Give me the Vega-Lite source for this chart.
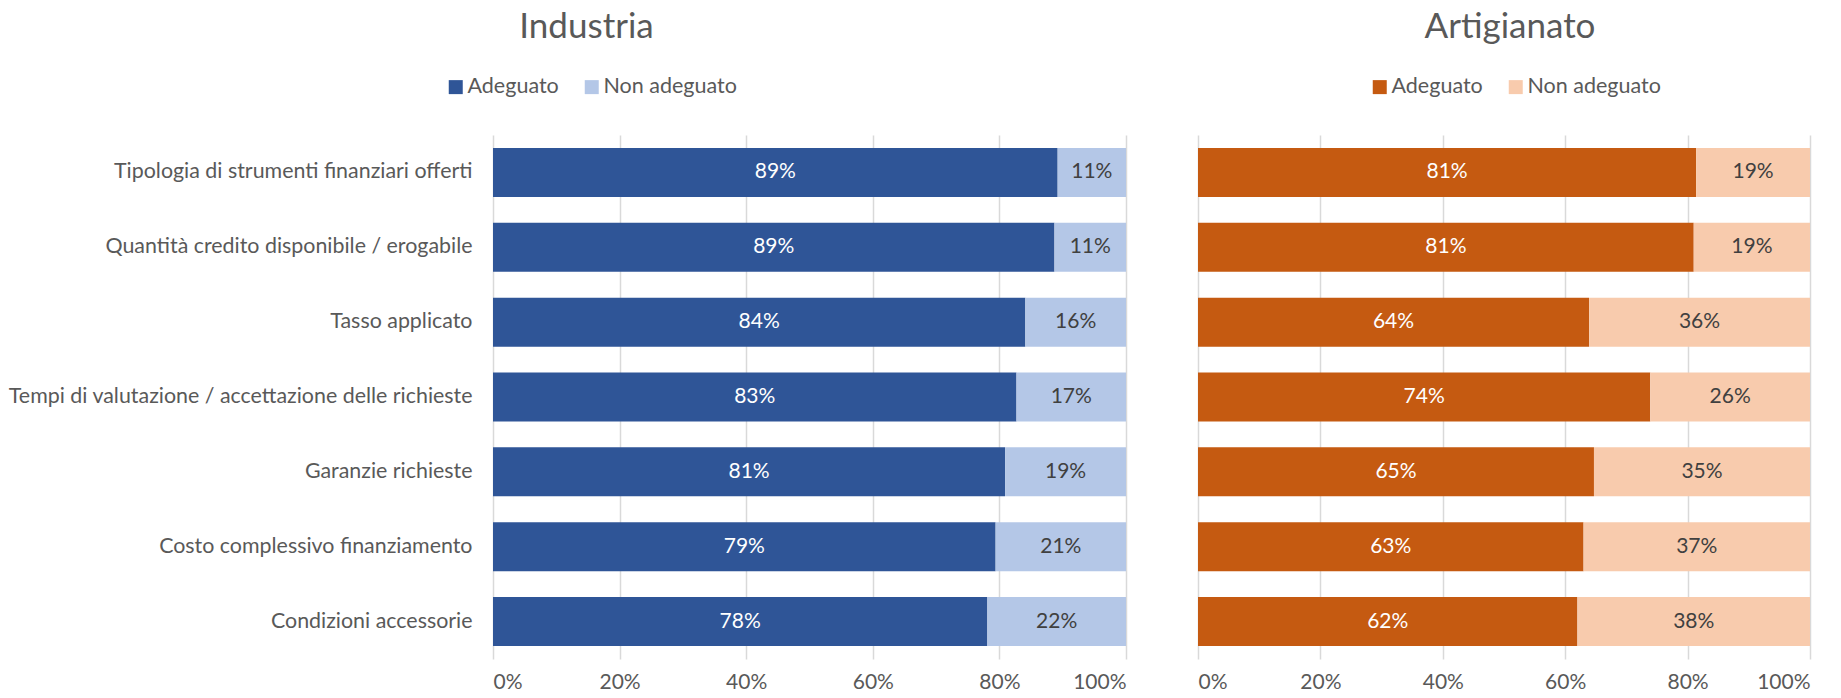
{
  "$schema": "https://vega.github.io/schema/vega-lite/v6.json",
  "background": "white",
  "padding": {"left": 7, "top": 10, "right": 30, "bottom": 5},
  "config": {
    "view": {"stroke": null},
    "font": "Lato",
    "axisX": {"grid": true, "gridColor": "#D9D9D9", "gridWidth": 1.5, "ticks": false, "domain": false, "labelPadding": 12, "labelFontSize": 21, "labelColor": "#595959", "title": null},
    "axisY": {"ticks": false, "domain": false, "grid": false, "labelPadding": 21, "labelFontSize": 21.4, "labelLimit": 800, "labelColor": "#595959", "title": null},
    "legend": {"orient": "none", "direction": "horizontal", "title": null, "symbolType": "square", "symbolSize": 196, "symbolStrokeWidth": 0, "labelFontSize": 21.5, "labelColor": "#595959", "columnPadding": 22, "labelOffset": 1},
    "title": {"fontSize": 35, "fontWeight": "normal", "color": "#595959", "frame": "group", "anchor": "middle"}
  },
  "datasets": {
    "d": [
      {"panel": "Industria", "category": "Tipologia di strumenti finanziari offerti", "status": "Adeguato", "value": 0.892},
      {"panel": "Industria", "category": "Tipologia di strumenti finanziari offerti", "status": "Non adeguato", "value": 0.108},
      {"panel": "Industria", "category": "Quantità credito disponibile / erogabile", "status": "Adeguato", "value": 0.887},
      {"panel": "Industria", "category": "Quantità credito disponibile / erogabile", "status": "Non adeguato", "value": 0.113},
      {"panel": "Industria", "category": "Tasso applicato", "status": "Adeguato", "value": 0.841},
      {"panel": "Industria", "category": "Tasso applicato", "status": "Non adeguato", "value": 0.159},
      {"panel": "Industria", "category": "Tempi di valutazione / accettazione delle richieste", "status": "Adeguato", "value": 0.827},
      {"panel": "Industria", "category": "Tempi di valutazione / accettazione delle richieste", "status": "Non adeguato", "value": 0.173},
      {"panel": "Industria", "category": "Garanzie richieste", "status": "Adeguato", "value": 0.809},
      {"panel": "Industria", "category": "Garanzie richieste", "status": "Non adeguato", "value": 0.191},
      {"panel": "Industria", "category": "Costo complessivo finanziamento", "status": "Adeguato", "value": 0.794},
      {"panel": "Industria", "category": "Costo complessivo finanziamento", "status": "Non adeguato", "value": 0.206},
      {"panel": "Industria", "category": "Condizioni accessorie", "status": "Adeguato", "value": 0.781},
      {"panel": "Industria", "category": "Condizioni accessorie", "status": "Non adeguato", "value": 0.219},
      {"panel": "Artigianato", "category": "Tipologia di strumenti finanziari offerti", "status": "Adeguato", "value": 0.814},
      {"panel": "Artigianato", "category": "Tipologia di strumenti finanziari offerti", "status": "Non adeguato", "value": 0.186},
      {"panel": "Artigianato", "category": "Quantità credito disponibile / erogabile", "status": "Adeguato", "value": 0.81},
      {"panel": "Artigianato", "category": "Quantità credito disponibile / erogabile", "status": "Non adeguato", "value": 0.19},
      {"panel": "Artigianato", "category": "Tasso applicato", "status": "Adeguato", "value": 0.639},
      {"panel": "Artigianato", "category": "Tasso applicato", "status": "Non adeguato", "value": 0.361},
      {"panel": "Artigianato", "category": "Tempi di valutazione / accettazione delle richieste", "status": "Adeguato", "value": 0.739},
      {"panel": "Artigianato", "category": "Tempi di valutazione / accettazione delle richieste", "status": "Non adeguato", "value": 0.261},
      {"panel": "Artigianato", "category": "Garanzie richieste", "status": "Adeguato", "value": 0.647},
      {"panel": "Artigianato", "category": "Garanzie richieste", "status": "Non adeguato", "value": 0.353},
      {"panel": "Artigianato", "category": "Costo complessivo finanziamento", "status": "Adeguato", "value": 0.63},
      {"panel": "Artigianato", "category": "Costo complessivo finanziamento", "status": "Non adeguato", "value": 0.37},
      {"panel": "Artigianato", "category": "Condizioni accessorie", "status": "Adeguato", "value": 0.62},
      {"panel": "Artigianato", "category": "Condizioni accessorie", "status": "Non adeguato", "value": 0.38}
    ]
  },
  "spacing": 72,
  "bounds": "flush",
  "resolve": {"scale": {"color": "independent", "y": "independent"}, "legend": {"color": "independent"}},
  "hconcat": [
    {
      "width": 633,
      "height": 524,
      "title": {"text": "Industria", "dx": -223, "offset": 31},
      "data": {"name": "d"},
      "transform": [
        {"filter": "datum.panel === 'Industria'"},
        {"stack": "value", "groupby": ["category"], "sort": [{"field": "status", "order": "ascending"}], "as": ["v0", "v1"]}
      ],
      "encoding": {
        "y": {"field": "category", "type": "nominal", "sort": ["Tipologia di strumenti finanziari offerti", "Quantità credito disponibile / erogabile", "Tasso applicato", "Tempi di valutazione / accettazione delle richieste", "Garanzie richieste", "Costo complessivo finanziamento", "Condizioni accessorie"], "scale": {"paddingInner": 0.345, "paddingOuter": 0.1727}}
      },
      "layer": [
        {
          "mark": {"type": "bar"},
          "encoding": {
            "x": {"field": "v0", "type": "quantitative", "scale": {"domain": [0, 1]}, "axis": {"values": [0, 0.2, 0.4, 0.6, 0.8, 1], "format": ".0%"}},
            "x2": {"field": "v1"},
            "color": {"field": "status", "type": "nominal", "scale": {"domain": ["Adeguato", "Non adeguato"], "range": ["#2F5597", "#B4C7E7"]}, "legend": {"legendX": -48, "legendY": -59}}
          }
        },
        {
          "transform": [{"fold": ["v0", "v1"], "as": ["k", "pos"]}],
          "mark": {"type": "text", "fontSize": 21},
          "encoding": {
            "x": {"field": "pos", "aggregate": "mean", "type": "quantitative", "stack": null},
            "detail": {"field": "status"},
            "text": {"field": "value", "type": "quantitative", "format": ".0%"},
            "color": {"condition": {"test": "datum.status === 'Adeguato'", "value": "#FFFFFF"}, "value": "#404040"}
          }
        }
      ]
    },
    {
      "width": 612,
      "height": 524,
      "title": {"text": "Artigianato", "dx": 6, "offset": 31},
      "data": {"name": "d"},
      "transform": [
        {"filter": "datum.panel === 'Artigianato'"},
        {"stack": "value", "groupby": ["category"], "sort": [{"field": "status", "order": "ascending"}], "as": ["v0", "v1"]}
      ],
      "encoding": {
        "y": {"field": "category", "type": "nominal", "axis": null, "sort": ["Tipologia di strumenti finanziari offerti", "Quantità credito disponibile / erogabile", "Tasso applicato", "Tempi di valutazione / accettazione delle richieste", "Garanzie richieste", "Costo complessivo finanziamento", "Condizioni accessorie"], "scale": {"paddingInner": 0.345, "paddingOuter": 0.1727}}
      },
      "layer": [
        {
          "mark": {"type": "bar"},
          "encoding": {
            "x": {"field": "v0", "type": "quantitative", "scale": {"domain": [0, 1]}, "axis": {"values": [0, 0.2, 0.4, 0.6, 0.8, 1], "format": ".0%"}},
            "x2": {"field": "v1"},
            "color": {"field": "status", "type": "nominal", "scale": {"domain": ["Adeguato", "Non adeguato"], "range": ["#C55A11", "#F8CBAD"]}, "legend": {"legendX": 171, "legendY": -59}}
          }
        },
        {
          "transform": [{"fold": ["v0", "v1"], "as": ["k", "pos"]}],
          "mark": {"type": "text", "fontSize": 21},
          "encoding": {
            "x": {"field": "pos", "aggregate": "mean", "type": "quantitative", "stack": null},
            "detail": {"field": "status"},
            "text": {"field": "value", "type": "quantitative", "format": ".0%"},
            "color": {"condition": {"test": "datum.status === 'Adeguato'", "value": "#FFFFFF"}, "value": "#404040"}
          }
        }
      ]
    }
  ]
}
